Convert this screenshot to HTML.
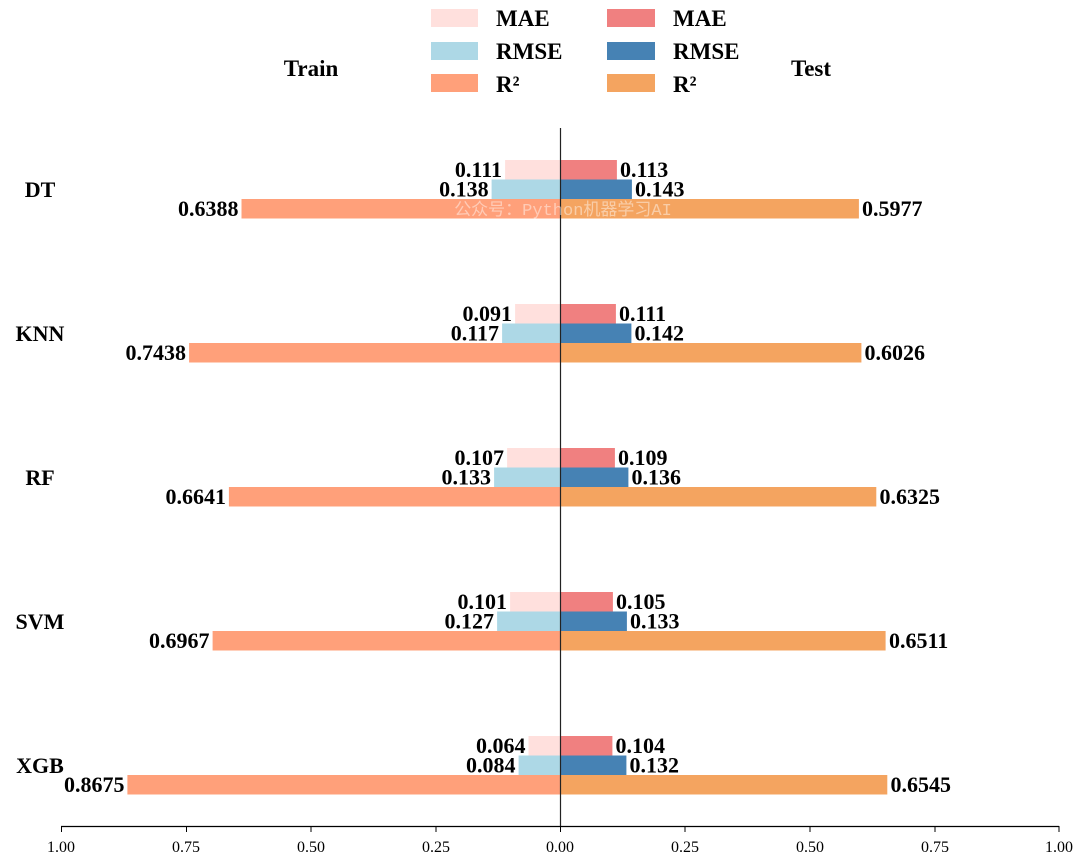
<!DOCTYPE html>
<html><head><meta charset="utf-8"><style>body{margin:0;background:#fff}svg{display:block}</style></head>
<body>
<svg width="1080" height="861" xmlns="http://www.w3.org/2000/svg" font-family="Liberation Serif, serif" font-weight="bold">
<rect width="1080" height="861" fill="#fff"/>
<rect x="431" y="9" width="47" height="18" fill="#FFE0DD"/>
<rect x="431" y="42" width="47" height="18" fill="#ADD8E6"/>
<rect x="431" y="74" width="47" height="18" fill="#FFA07A"/>
<rect x="607" y="9" width="48" height="18" fill="#F08080"/>
<rect x="607" y="42" width="48" height="18" fill="#4682B4"/>
<rect x="607" y="74" width="48" height="18" fill="#F4A460"/>
<g font-size="23" fill="#000">
<text x="496" y="26">MAE</text><text x="496" y="59">RMSE</text><text x="496" y="92">R²</text>
<text x="673" y="26">MAE</text><text x="673" y="59">RMSE</text><text x="673" y="92">R²</text>
<text x="311" y="76" text-anchor="middle">Train</text>
<text x="811" y="76" text-anchor="middle">Test</text>
</g>
<g font-size="22" fill="#000">
<text x="40" y="197" text-anchor="middle">DT</text>
<rect x="505.1" y="160" width="55.4" height="19.5" fill="#FFE0DD"/>
<rect x="491.6" y="179.5" width="68.9" height="19.5" fill="#ADD8E6"/>
<rect x="241.5" y="199" width="319" height="19.5" fill="#FFA07A"/>
<rect x="560.5" y="160" width="56.4" height="19.5" fill="#F08080"/>
<rect x="560.5" y="179.5" width="71.4" height="19.5" fill="#4682B4"/>
<rect x="560.5" y="199" width="298.4" height="19.5" fill="#F4A460"/>
<text x="502" y="177" text-anchor="end">0.111</text>
<text x="488.6" y="196.5" text-anchor="end">0.138</text>
<text x="238.5" y="216" text-anchor="end">0.6388</text>
<text x="620" y="177">0.113</text>
<text x="635" y="196.5">0.143</text>
<text x="862" y="216">0.5977</text>
<text x="40" y="341" text-anchor="middle">KNN</text>
<rect x="515.1" y="304" width="45.4" height="19.5" fill="#FFE0DD"/>
<rect x="502.1" y="323.5" width="58.4" height="19.5" fill="#ADD8E6"/>
<rect x="189.1" y="343" width="371.4" height="19.5" fill="#FFA07A"/>
<rect x="560.5" y="304" width="55.4" height="19.5" fill="#F08080"/>
<rect x="560.5" y="323.5" width="70.9" height="19.5" fill="#4682B4"/>
<rect x="560.5" y="343" width="300.9" height="19.5" fill="#F4A460"/>
<text x="512" y="321" text-anchor="end">0.091</text>
<text x="499" y="340.5" text-anchor="end">0.117</text>
<text x="186" y="360" text-anchor="end">0.7438</text>
<text x="619" y="321">0.111</text>
<text x="634.5" y="340.5">0.142</text>
<text x="864.5" y="360">0.6026</text>
<text x="40" y="485" text-anchor="middle">RF</text>
<rect x="507.1" y="448" width="53.4" height="19.5" fill="#FFE0DD"/>
<rect x="494.1" y="467.5" width="66.4" height="19.5" fill="#ADD8E6"/>
<rect x="228.9" y="487" width="331.6" height="19.5" fill="#FFA07A"/>
<rect x="560.5" y="448" width="54.4" height="19.5" fill="#F08080"/>
<rect x="560.5" y="467.5" width="67.9" height="19.5" fill="#4682B4"/>
<rect x="560.5" y="487" width="315.8" height="19.5" fill="#F4A460"/>
<text x="504" y="465" text-anchor="end">0.107</text>
<text x="491" y="484.5" text-anchor="end">0.133</text>
<text x="226" y="504" text-anchor="end">0.6641</text>
<text x="618" y="465">0.109</text>
<text x="631.5" y="484.5">0.136</text>
<text x="879.5" y="504">0.6325</text>
<text x="40" y="629" text-anchor="middle">SVM</text>
<rect x="510.1" y="592" width="50.4" height="19.5" fill="#FFE0DD"/>
<rect x="497.1" y="611.5" width="63.4" height="19.5" fill="#ADD8E6"/>
<rect x="212.6" y="631" width="347.9" height="19.5" fill="#FFA07A"/>
<rect x="560.5" y="592" width="52.4" height="19.5" fill="#F08080"/>
<rect x="560.5" y="611.5" width="66.4" height="19.5" fill="#4682B4"/>
<rect x="560.5" y="631" width="325.1" height="19.5" fill="#F4A460"/>
<text x="507" y="609" text-anchor="end">0.101</text>
<text x="494" y="628.5" text-anchor="end">0.127</text>
<text x="209.5" y="648" text-anchor="end">0.6967</text>
<text x="616" y="609">0.105</text>
<text x="630" y="628.5">0.133</text>
<text x="889" y="648">0.6511</text>
<text x="40" y="773" text-anchor="middle">XGB</text>
<rect x="528.5" y="736" width="32" height="19.5" fill="#FFE0DD"/>
<rect x="518.6" y="755.5" width="41.9" height="19.5" fill="#ADD8E6"/>
<rect x="127.4" y="775" width="433.1" height="19.5" fill="#FFA07A"/>
<rect x="560.5" y="736" width="51.9" height="19.5" fill="#F08080"/>
<rect x="560.5" y="755.5" width="65.9" height="19.5" fill="#4682B4"/>
<rect x="560.5" y="775" width="326.8" height="19.5" fill="#F4A460"/>
<text x="525.5" y="753" text-anchor="end">0.064</text>
<text x="515.5" y="772.5" text-anchor="end">0.084</text>
<text x="124.5" y="792" text-anchor="end">0.8675</text>
<text x="615.5" y="753">0.104</text>
<text x="629.5" y="772.5">0.132</text>
<text x="890.5" y="792">0.6545</text>
</g>
<line x1="560.5" y1="128" x2="560.5" y2="827" stroke="#222" stroke-width="1.2"/>
<line x1="61" y1="826.5" x2="1059" y2="826.5" stroke="#000" stroke-width="1.2"/>
<g font-size="16" font-weight="normal" text-anchor="middle" fill="#000">
<line x1="61.5" y1="826" x2="61.5" y2="832" stroke="#000"/><text x="61" y="852">1.00</text>
<line x1="186.5" y1="826" x2="186.5" y2="832" stroke="#000"/><text x="186" y="852">0.75</text>
<line x1="311" y1="826" x2="311" y2="832" stroke="#000"/><text x="311" y="852">0.50</text>
<line x1="436" y1="826" x2="436" y2="832" stroke="#000"/><text x="436" y="852">0.25</text>
<line x1="560.5" y1="826" x2="560.5" y2="832" stroke="#000"/><text x="560" y="852">0.00</text>
<line x1="685" y1="826" x2="685" y2="832" stroke="#000"/><text x="685" y="852">0.25</text>
<line x1="810" y1="826" x2="810" y2="832" stroke="#000"/><text x="810" y="852">0.50</text>
<line x1="935" y1="826" x2="935" y2="832" stroke="#000"/><text x="935" y="852">0.75</text>
<line x1="1059" y1="826" x2="1059" y2="832" stroke="#000"/><text x="1059" y="852">1.00</text>
</g>
<text x="563" y="215" font-size="17" font-weight="normal" fill="#ffffff" fill-opacity="0.45" text-anchor="middle" font-family="Liberation Mono, Noto Sans CJK SC, monospace">公众号：Python机器学习AI</text>
</svg>
</body></html>
